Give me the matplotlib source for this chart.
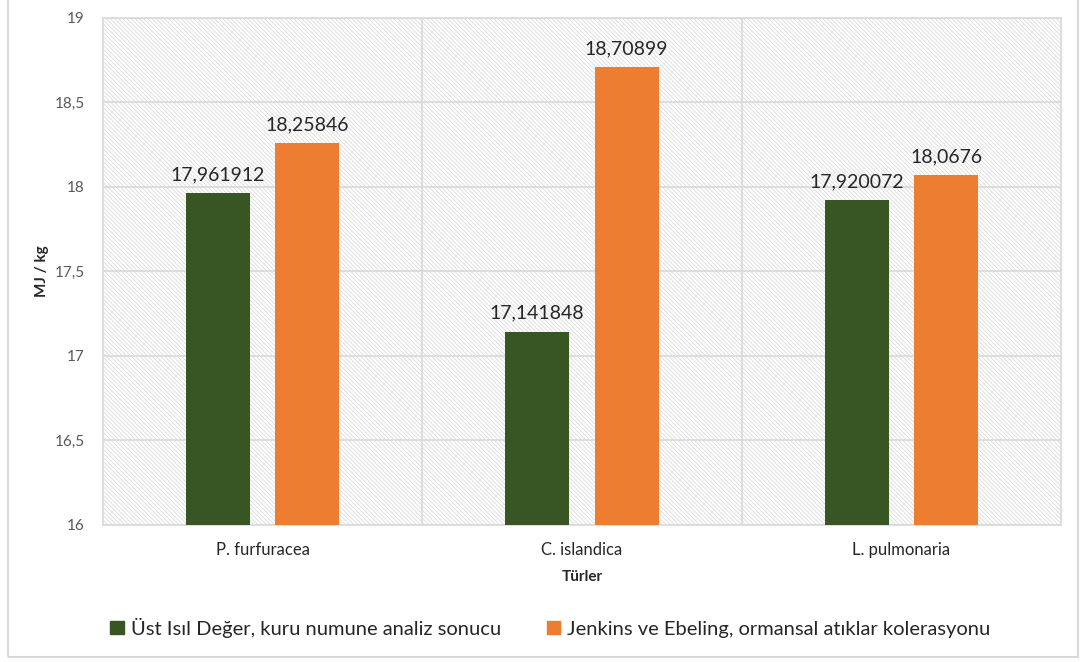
import numpy as np
import matplotlib
matplotlib.use("Agg")
import matplotlib.pyplot as plt
from matplotlib.patches import Rectangle
from matplotlib.ticker import FuncFormatter

categories = ["P. furfuracea", "C. islandica", "L. pulmonaria"]
ust_isil = [17.961912, 17.141848, 17.920072]
jenkins = [18.25846, 18.70899, 18.0676]
series_names = ["Üst Isıl Değer, kuru numune analiz sonucu",
                "Jenkins ve Ebeling, ormansal atıklar kolerasyonu"]

green = "#375623"
orange = "#ED7D31"
grid_c = "#D9D9D9"

plt.rcParams["font.family"] = ["Lato", "DejaVu Sans"]
plt.rcParams["hatch.color"] = "#DADADA"
plt.rcParams["hatch.linewidth"] = 0.6

fig = plt.figure(figsize=(10.86, 6.62), dpi=100)
ax = fig.add_axes([0.0948, 0.207, 0.8822, 0.766])

# hatched plot background
ax.add_patch(Rectangle((0, 0), 1, 1, transform=ax.transAxes, facecolor="white",
                       hatch="\\" * 8, edgecolor="#DADADA", linewidth=0, zorder=0))

x = np.arange(len(categories))
w = 0.2
off = 0.14
b1 = ax.bar(x - off, [v - 16 for v in ust_isil], w, bottom=16, color=green, zorder=3)
b2 = ax.bar(x + off, [v - 16 for v in jenkins], w, bottom=16, color=orange, zorder=3)

for bars, vals in ((b1, ust_isil), (b2, jenkins)):
    for rect, v in zip(bars, vals):
        ax.text(rect.get_x() + rect.get_width() / 2, v + 0.06, str(v).replace(".", ","),
                ha="center", va="bottom", fontsize=14, color="#262626", zorder=4)

ax.set_xlim(-0.5, 2.5)
ax.set_ylim(16, 19)
ax.set_yticks(np.arange(16, 19.01, 0.5))
ax.yaxis.set_major_formatter(FuncFormatter(lambda v, p: f"{v:g}".replace(".", ",")))
ax.set_xticks(x)
ax.set_xticklabels(categories)
ax.tick_params(axis="both", length=0, labelsize=11, colors="#595959")
ax.tick_params(axis="x", pad=12, labelsize=12, labelcolor="#262626")
ax.tick_params(axis="y", pad=13)

ax.grid(axis="y", color=grid_c, linewidth=1.2, zorder=1)
for b in (0.5, 1.5):
    ax.axvline(b, color=grid_c, linewidth=1.2, zorder=1)
for s in ax.spines.values():
    s.set_color(grid_c)
    s.set_linewidth(1.2)

ax.set_ylabel("MJ / kg", fontsize=11, fontweight="bold", color="#262626", labelpad=4)
ax.set_xlabel("Türler", fontsize=11, fontweight="bold", color="#262626", labelpad=9)

handles = [Rectangle((0, 0), 1, 1, color=green), Rectangle((0, 0), 1, 1, color=orange)]
fig.legend(handles, series_names, loc="center left", bbox_to_anchor=(0.085, 0.052),
           ncol=2, frameon=False, fontsize=14.5, handlelength=0.65, handleheight=0.65,
           handletextpad=0.35, columnspacing=2.3, labelcolor="#262626")

fig.patches.append(Rectangle((8 / 1086, 5 / 662), 1070 / 1086, 660 / 662,
                             transform=fig.transFigure, fill=False,
                             edgecolor=grid_c, linewidth=1.5))

fig.savefig("out.png", dpi=100)
